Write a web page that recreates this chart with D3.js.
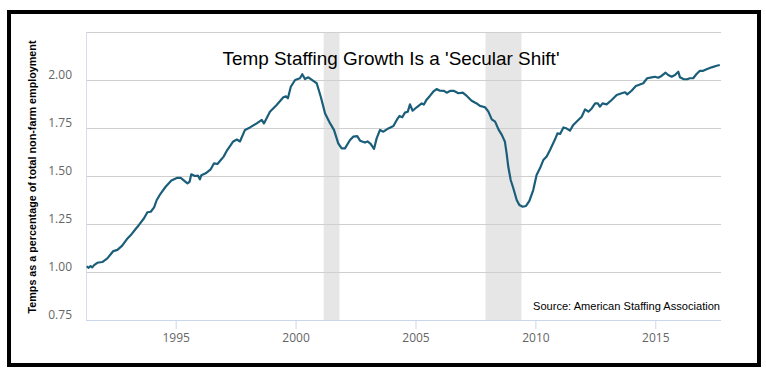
<!DOCTYPE html>
<html><head><meta charset="utf-8">
<script src="https://cdn.jsdelivr.net/npm/d3@7"></script>
<style>body{margin:0;background:#fff}svg{display:block}</style>
</head><body><svg id="c" width="766" height="376"></svg>
<script>
const years = [1991.29,1991.37,1991.45,1991.52,1991.60,1991.73,1991.94,1992.15,1992.40,1992.57,1992.77,1992.96,1993.12,1993.33,1993.47,1993.68,1993.82,1993.96,1994.10,1994.21,1994.38,1994.58,1994.82,1995.07,1995.21,1995.35,1995.49,1995.58,1995.65,1995.80,1995.93,1996.01,1996.07,1996.25,1996.46,1996.60,1996.74,1996.88,1997.00,1997.15,1997.25,1997.40,1997.55,1997.68,1997.89,1998.10,1998.38,1998.59,1998.68,1998.93,1999.21,1999.49,1999.60,1999.68,1999.80,1999.98,2000.18,2000.28,2000.39,2000.53,2000.74,2000.88,2001.05,2001.23,2001.44,2001.60,2001.78,2001.92,2002.06,2002.27,2002.41,2002.57,2002.69,2002.89,2003.00,2003.13,2003.27,2003.38,2003.52,2003.66,2003.87,2004.08,2004.22,2004.33,2004.45,2004.56,2004.68,2004.77,2004.88,2005.05,2005.26,2005.35,2005.47,2005.60,2005.74,2005.88,2006.02,2006.19,2006.30,2006.44,2006.61,2006.79,2006.97,2007.14,2007.34,2007.55,2007.69,2007.90,2008.04,2008.18,2008.32,2008.46,2008.60,2008.73,2008.80,2008.87,2008.97,2009.08,2009.22,2009.33,2009.47,2009.61,2009.75,2009.91,2010.05,2010.19,2010.33,2010.47,2010.61,2010.82,2010.92,2011.03,2011.17,2011.31,2011.44,2011.58,2011.79,2011.93,2012.07,2012.21,2012.35,2012.49,2012.60,2012.69,2012.80,2012.97,2013.18,2013.39,2013.60,2013.74,2013.83,2014.01,2014.19,2014.36,2014.50,2014.66,2014.85,2014.99,2015.12,2015.26,2015.43,2015.54,2015.68,2015.82,2015.96,2016.03,2016.17,2016.33,2016.44,2016.58,2016.72,2016.86,2017.00,2017.14,2017.35,2017.56,2017.69];
const values = [1.030,1.022,1.031,1.024,1.036,1.048,1.052,1.071,1.109,1.115,1.137,1.170,1.191,1.224,1.245,1.280,1.311,1.314,1.337,1.375,1.410,1.444,1.476,1.491,1.490,1.476,1.462,1.470,1.509,1.500,1.502,1.483,1.504,1.514,1.535,1.566,1.5625,1.583,1.601,1.635,1.653,1.680,1.690,1.680,1.740,1.753,1.774,1.792,1.774,1.835,1.870,1.910,1.915,1.905,1.965,2.000,2.009,2.030,2.005,2.014,1.995,1.983,1.913,1.826,1.774,1.740,1.670,1.644,1.644,1.6875,1.705,1.708,1.684,1.674,1.680,1.667,1.641,1.696,1.740,1.731,1.748,1.760,1.792,1.8125,1.806,1.830,1.835,1.873,1.840,1.858,1.878,1.872,1.899,1.917,1.939,1.953,1.944,1.943,1.934,1.943,1.943,1.931,1.934,1.917,1.892,1.878,1.865,1.858,1.835,1.795,1.783,1.743,1.714,1.678,1.618,1.548,1.479,1.436,1.375,1.349,1.340,1.344,1.370,1.427,1.505,1.540,1.583,1.601,1.635,1.691,1.722,1.719,1.753,1.747,1.736,1.766,1.792,1.809,1.847,1.835,1.852,1.878,1.878,1.861,1.878,1.873,1.896,1.922,1.931,1.936,1.925,1.944,1.969,1.977,1.983,2.009,2.014,2.017,2.012,2.021,2.038,2.026,2.017,2.026,2.043,2.014,2.005,2.004,2.009,2.009,2.031,2.048,2.048,2.056,2.066,2.074,2.078];
const recessionStarts = [2001.17, 2007.92];
const recessionEnds = [2001.83, 2009.42];
const yTicks = [0.75, 1.00, 1.25, 1.50, 1.75, 2.00];
const xTicks = [1995, 2000, 2005, 2010, 2015];
const title = "Temp Staffing Growth Is a 'Secular Shift'";
const yTitle = "Temps as a percentage of total non-farm employment";
const source = "Source: American Staffing Association";

const svg = d3.select("#c");
const L = 86, R = 721, T = 32, B = 320;
const x = d3.scaleLinear().domain([1991.26, 2017.74]).range([L, R]);
const y = d3.scaleLinear().domain([0.75, 2.25]).range([B, T]);

// recession bands
svg.selectAll("rect.rec").data(recessionStarts).join("rect")
  .attr("x", (d) => x(d)).attr("y", T)
  .attr("width", (d, i) => x(recessionEnds[i]) - x(d)).attr("height", B - T)
  .attr("fill", "#e6e6e6");

// gridlines
svg.selectAll("line.grid").data(yTicks.concat([2.25])).join("line")
  .attr("x1", L).attr("x2", R).attr("y1", d => y(d) + 0.5).attr("y2", d => y(d) + 0.5)
  .attr("stroke", "#cfcfcf").attr("stroke-width", 1);

// left axis line
svg.append("line").attr("x1", L + 0.5).attr("x2", L + 0.5).attr("y1", T).attr("y2", B)
  .attr("stroke", "#d8dde6");

// x axis
const xa = svg.append("g").attr("transform", `translate(0,${B})`)
  .call(d3.axisBottom(x).tickValues(xTicks).tickFormat(d3.format("d")).tickSize(9).tickPadding(4));
xa.select(".domain").attr("stroke", "#ccd6eb").attr("d", `M${L},0.5H${R}`);
xa.selectAll(".tick line").attr("stroke", "#ccd6eb");
xa.selectAll(".tick text").attr("fill", "#666").style("font", "12px 'Open Sans', sans-serif");

// y labels
svg.selectAll("text.yl").data(yTicks).join("text")
  .attr("x", 72).attr("y", d => y(d) - 1.5).attr("text-anchor", "end")
  .attr("fill", "#666").style("font", "12px 'Open Sans', sans-serif")
  .text(d3.format(".2f"));

// line
svg.append("path").datum(years.map((t, i) => [t, values[i]]))
  .attr("fill", "none").attr("stroke", "#1a5e7a").attr("stroke-width", 2.2)
  .attr("stroke-linejoin", "round")
  .attr("d", d3.line().x(d => x(d[0])).y(d => y(d[1])));

// title
svg.append("text").attr("x", 391).attr("y", 65).attr("text-anchor", "middle")
  .attr("textLength", 337).attr("lengthAdjust", "spacingAndGlyphs")
  .style("font", "19px 'Liberation Sans', Arial, sans-serif").attr("fill", "#000").text(title);

// y title
svg.append("text").attr("transform", "translate(36,177) rotate(-90)").attr("text-anchor", "middle")
  .attr("textLength", 273).attr("lengthAdjust", "spacingAndGlyphs")
  .style("font", "bold 11px 'Liberation Sans', Arial, sans-serif").attr("fill", "#000").text(yTitle);

// source
svg.append("text").attr("x", 720).attr("y", 310).attr("text-anchor", "end")
  .attr("textLength", 187).attr("lengthAdjust", "spacingAndGlyphs")
  .style("font", "11px 'Liberation Sans', Arial, sans-serif").attr("fill", "#000").text(source);

// outer border
svg.append("rect").attr("x", 9).attr("y", 12).attr("width", 750).attr("height", 353)
  .attr("fill", "none").attr("stroke", "#000").attr("stroke-width", 4);
</script></body></html>
